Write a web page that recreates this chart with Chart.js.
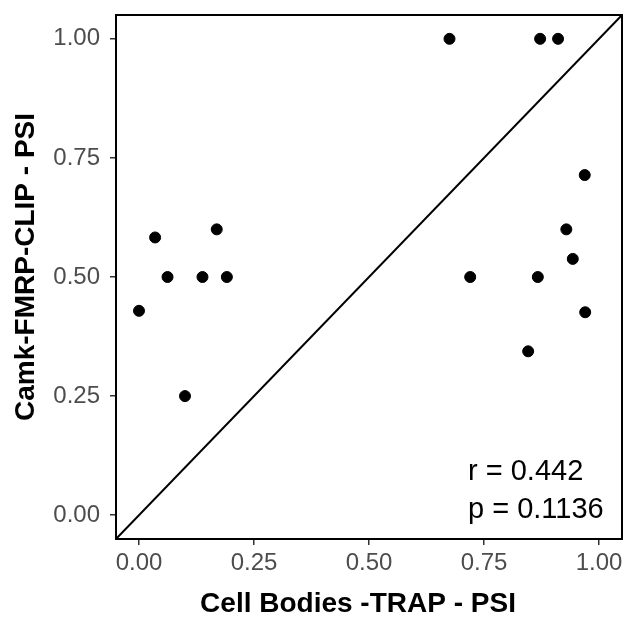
<!DOCTYPE html>
<html lang="en">
<head>
  <meta charset="UTF-8">
  <title>Cell Bodies TRAP vs Camk FMRP-CLIP PSI</title>
  <script src="https://cdn.jsdelivr.net/npm/chart.js"></script>
  <style>
    body { margin: 0; background: #fff; }
    canvas { display: block; }
  </style>
</head>
<body>
  <canvas id="psiChart" width="633" height="620"></canvas>

  <script>
    // PSI values
    const cellBodiesPsi = [0.000, 0.035, 0.062, 0.100, 0.138, 0.169, 0.191, 0.675, 0.720,
                           0.846, 0.867, 0.872, 0.911, 0.929, 0.943, 0.969, 0.970];
    const camkPsi       = [0.429, 0.583, 0.500, 0.250, 0.500, 0.600, 0.500, 1.000, 0.500,
                           0.344, 0.500, 1.000, 1.000, 0.600, 0.538, 0.714, 0.426];
    const tickValues = [0, 0.25, 0.5, 0.75, 1];
    const axisRange = [-0.05, 1.05];
    const statLines = ["r = 0.442", "p = 0.1136"];
    const xTitle = "Cell Bodies -TRAP - PSI";
    const yTitle = "Camk-FMRP-CLIP - PSI";

    const FONT = "'Liberation Sans', Arial, sans-serif";

    // panel border, axis titles and r/p text
    const extras = {
      id: "extras",
      afterDraw(chart) {
        const { ctx, chartArea: a } = chart;
        ctx.save();
        ctx.strokeStyle = "#000";
        ctx.lineWidth = 2;
        ctx.strokeRect(a.left, a.top, a.right - a.left, a.bottom - a.top);

        ctx.fillStyle = "#000";
        ctx.font = "bold 28px " + FONT;
        ctx.textAlign = "center";
        ctx.textBaseline = "middle";
        ctx.fillText(xTitle, (a.left + a.right) / 2 - 11, 604);
        ctx.translate(26, (a.top + a.bottom) / 2 - 10);
        ctx.rotate(-Math.PI / 2);
        ctx.fillText(yTitle, 0, 0);
        ctx.restore();

        ctx.save();
        ctx.fillStyle = "#000";
        ctx.font = "29px " + FONT;
        ctx.textAlign = "left";
        ctx.textBaseline = "alphabetic";
        statLines.forEach((s, i) => ctx.fillText(s, a.right - 154, a.bottom - 59 + i * 38));
        ctx.restore();
      }
    };

    const axis = (extra) => Object.assign({
      type: "linear",
      min: axisRange[0],
      max: axisRange[1],
      afterBuildTicks: s => { s.ticks = tickValues.map(v => ({ value: v })); },
      grid: { drawOnChartArea: false, drawTicks: true, tickLength: 6, color: "#333", lineWidth: 1.5 },
      border: { display: true, color: "#000", width: 2 },
      title: { display: false }
    }, extra);

    new Chart(document.getElementById("psiChart"), {
      type: "scatter",
      data: {
        datasets: [
          {
            data: cellBodiesPsi.map((x, i) => ({ x: x, y: camkPsi[i] })),
            backgroundColor: "#000",
            borderColor: "#000",
            pointRadius: 5.5,
            pointHoverRadius: 5.5
          },
          {
            data: axisRange.map(v => ({ x: v, y: v })),
            showLine: true,
            borderColor: "#000",
            borderWidth: 2,
            pointRadius: 0
          }
        ]
      },
      options: {
        responsive: false,
        animation: false,
        layout: { padding: { left: 0, top: 15, right: 11, bottom: 0 } },
        plugins: { legend: { display: false }, tooltip: { enabled: false } },
        scales: {
          x: axis({
            position: "bottom",
            afterFit: s => { s.height = 81; s.paddingLeft = 0; s.paddingRight = 0; },
            ticks: {
              color: "#4d4d4d",
              font: { family: FONT, size: 24 },
              padding: 4,
              maxRotation: 0,
              callback: v => v.toFixed(2)
            }
          }),
          y: axis({
            position: "left",
            afterFit: s => { s.width = 116; s.paddingTop = 0; s.paddingBottom = 0; },
            ticks: {
              color: "#4d4d4d",
              font: { family: FONT, size: 24 },
              padding: 10,
              callback: v => v.toFixed(2)
            }
          })
        }
      },
      plugins: [extras]
    });
  </script>
</body>
</html>
